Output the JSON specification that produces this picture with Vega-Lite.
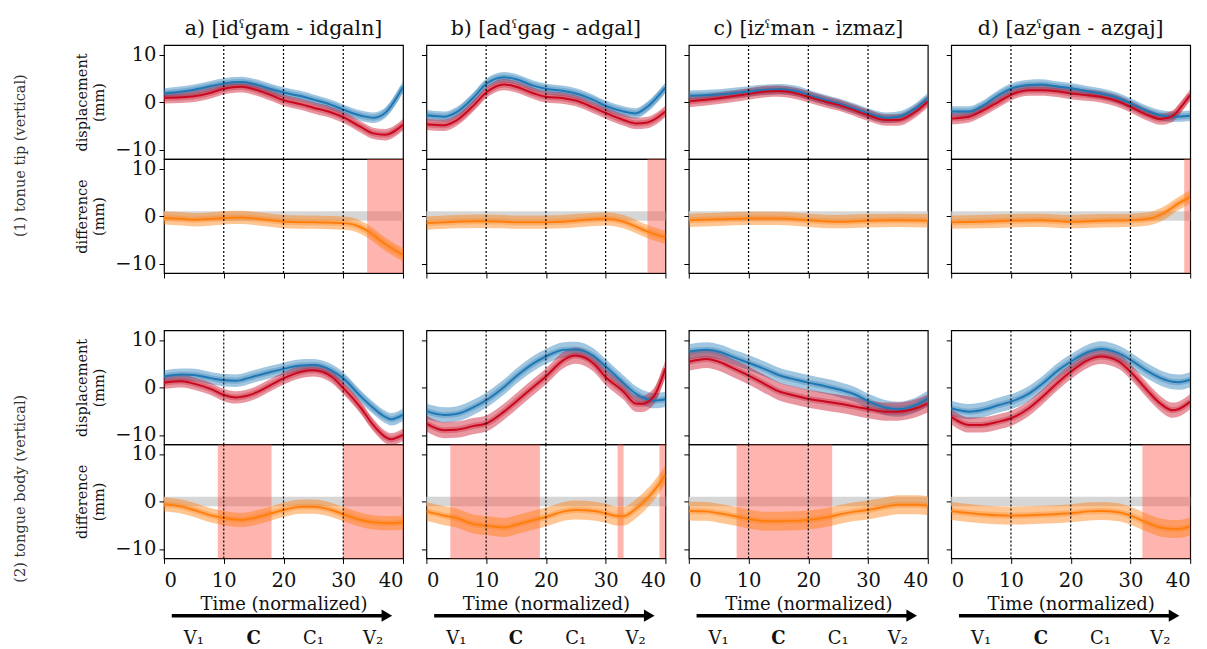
{
"$schema": "https://vega.github.io/schema/vega-lite/v6.json",
"background": "white",
"padding": {"left": 12, "top": 18, "right": 5, "bottom": 0},
"config": {
  "font": "DejaVu Serif",
  "view": {"stroke": "#000", "strokeWidth": 1.2},
  "axis": {"grid": false, "domain": false, "tickColor": "#000", "tickSize": 5, "tickWidth": 1, "labelFont": "DejaVu Serif", "labelFontSize": 19.5, "labelColor": "#111", "labelPadding": 3, "titleFont": "DejaVu Serif", "titleFontSize": 14.5, "titleFontWeight": "normal", "titleColor": "#111", "titleLineHeight": 17, "titlePadding": 8},
  "title": {"font": "DejaVu Serif", "fontSize": 20.5, "fontWeight": "normal", "color": "#111", "offset": 5},
  "text": {"font": "DejaVu Serif"}
},
"datasets": {
  "vl": [{"t": 10}, {"t": 20}, {"t": 30}],
  "grey": [{"t": 0, "t2": 40, "lo": -1, "hi": 1}],
  "sig": [
    {"p": "a1", "t": 34, "t2": 40}, {"p": "b1", "t": 37, "t2": 40}, {"p": "d1", "t": 39, "t2": 40},
    {"p": "a2", "t": 9, "t2": 18}, {"p": "a2", "t": 30, "t2": 40},
    {"p": "b2", "t": 4, "t2": 19}, {"p": "b2", "t": 32, "t2": 33}, {"p": "b2", "t": 39, "t2": 40},
    {"p": "c2", "t": 8, "t2": 24}, {"p": "d2", "t": 32, "t2": 40}
  ],
  "arrow": [{"t": 1.3, "t2": 36.8, "y": -24.06}],
  "head": [{"t": 37.3, "y": -24.06}],
  "phase": [{"t": 5, "lab": "V₁", "b": 0, "y": -28.9}, {"t": 15, "lab": "C", "b": 1, "y": -28.9}, {"t": 25, "lab": "C₁", "b": 0, "y": -28.9}, {"t": 35, "lab": "V₂", "b": 0, "y": -28.9}],
  "curves": [
{"p":"a1","s":"b","t":0,"m":1.8,"lo":0.7,"hi":2.9},
{"p":"a1","s":"b","t":3,"m":2.2,"lo":1.1,"hi":3.3},
{"p":"a1","s":"b","t":5,"m":2.6,"lo":1.5,"hi":3.7},
{"p":"a1","s":"b","t":8,"m":3.4,"lo":2.3,"hi":4.5},
{"p":"a1","s":"b","t":10,"m":3.9,"lo":2.8,"hi":5.0},
{"p":"a1","s":"b","t":13,"m":4.2,"lo":3.1,"hi":5.3},
{"p":"a1","s":"b","t":15,"m":3.8,"lo":2.7,"hi":4.9},
{"p":"a1","s":"b","t":18,"m":2.7,"lo":1.6,"hi":3.8},
{"p":"a1","s":"b","t":20,"m":2.0,"lo":0.9,"hi":3.1},
{"p":"a1","s":"b","t":23,"m":1.2,"lo":0.1,"hi":2.3},
{"p":"a1","s":"b","t":25,"m":0.5,"lo":-0.6,"hi":1.6},
{"p":"a1","s":"b","t":28,"m":-0.6,"lo":-1.7,"hi":0.5},
{"p":"a1","s":"b","t":30,"m":-1.6,"lo":-2.7,"hi":-0.5},
{"p":"a1","s":"b","t":33,"m":-2.9,"lo":-4.0,"hi":-1.8},
{"p":"a1","s":"b","t":35,"m":-3.3,"lo":-4.4,"hi":-2.2},
{"p":"a1","s":"b","t":37,"m":-2.3,"lo":-3.4,"hi":-1.2},
{"p":"a1","s":"b","t":40,"m":3.2,"lo":2.1,"hi":4.3},
{"p":"a1","s":"r","t":0,"m":0.9,"lo":-0.3,"hi":2.1},
{"p":"a1","s":"r","t":3,"m":1.0,"lo":-0.2,"hi":2.2},
{"p":"a1","s":"r","t":5,"m":1.2,"lo":0.0,"hi":2.4},
{"p":"a1","s":"r","t":8,"m":2.0,"lo":0.8,"hi":3.2},
{"p":"a1","s":"r","t":10,"m":2.8,"lo":1.6,"hi":4.0},
{"p":"a1","s":"r","t":13,"m":3.2,"lo":2.0,"hi":4.4},
{"p":"a1","s":"r","t":15,"m":2.7,"lo":1.5,"hi":3.9},
{"p":"a1","s":"r","t":18,"m":1.4,"lo":0.2,"hi":2.6},
{"p":"a1","s":"r","t":20,"m":0.4,"lo":-0.8,"hi":1.6},
{"p":"a1","s":"r","t":23,"m":-0.5,"lo":-1.7,"hi":0.7},
{"p":"a1","s":"r","t":25,"m":-1.2,"lo":-2.4,"hi":0.0},
{"p":"a1","s":"r","t":28,"m":-2.2,"lo":-3.4,"hi":-1.0},
{"p":"a1","s":"r","t":30,"m":-3.2,"lo":-4.4,"hi":-2.0},
{"p":"a1","s":"r","t":33,"m":-5.3,"lo":-6.5,"hi":-4.1},
{"p":"a1","s":"r","t":35,"m":-6.6,"lo":-7.8,"hi":-5.4},
{"p":"a1","s":"r","t":37,"m":-6.9,"lo":-8.1,"hi":-5.7},
{"p":"a1","s":"r","t":40,"m":-4.8,"lo":-6.0,"hi":-3.6},
{"p":"a1","s":"d","t":0,"m":-0.4,"lo":-1.8,"hi":1.0},
{"p":"a1","s":"d","t":3,"m":-0.6,"lo":-2.0,"hi":0.8},
{"p":"a1","s":"d","t":5,"m":-0.8,"lo":-2.2,"hi":0.6},
{"p":"a1","s":"d","t":8,"m":-0.6,"lo":-2.0,"hi":0.8},
{"p":"a1","s":"d","t":10,"m":-0.4,"lo":-1.8,"hi":1.0},
{"p":"a1","s":"d","t":13,"m":-0.3,"lo":-1.7,"hi":1.1},
{"p":"a1","s":"d","t":15,"m":-0.5,"lo":-1.9,"hi":0.9},
{"p":"a1","s":"d","t":18,"m":-0.9,"lo":-2.3,"hi":0.5},
{"p":"a1","s":"d","t":20,"m":-1.2,"lo":-2.6,"hi":0.2},
{"p":"a1","s":"d","t":23,"m":-1.3,"lo":-2.7,"hi":0.1},
{"p":"a1","s":"d","t":25,"m":-1.3,"lo":-2.7,"hi":0.1},
{"p":"a1","s":"d","t":28,"m":-1.4,"lo":-2.8,"hi":0.0},
{"p":"a1","s":"d","t":30,"m":-1.5,"lo":-2.9,"hi":-0.1},
{"p":"a1","s":"d","t":32,"m":-1.9,"lo":-3.3,"hi":-0.5},
{"p":"a1","s":"d","t":34,"m":-3.1,"lo":-4.5,"hi":-1.7},
{"p":"a1","s":"d","t":37,"m":-5.9,"lo":-7.3,"hi":-4.5},
{"p":"a1","s":"d","t":40,"m":-8.2,"lo":-9.6,"hi":-6.8},
{"p":"b1","s":"b","t":0,"m":-2.8,"lo":-3.9,"hi":-1.7},
{"p":"b1","s":"b","t":3,"m":-3.1,"lo":-4.2,"hi":-2.0},
{"p":"b1","s":"b","t":5,"m":-2.2,"lo":-3.3,"hi":-1.1},
{"p":"b1","s":"b","t":8,"m":1.1,"lo":0.0,"hi":2.2},
{"p":"b1","s":"b","t":10,"m":3.8,"lo":2.7,"hi":4.9},
{"p":"b1","s":"b","t":13,"m":5.2,"lo":4.1,"hi":6.3},
{"p":"b1","s":"b","t":15,"m":4.8,"lo":3.7,"hi":5.9},
{"p":"b1","s":"b","t":18,"m":3.4,"lo":2.3,"hi":4.5},
{"p":"b1","s":"b","t":20,"m":2.8,"lo":1.7,"hi":3.9},
{"p":"b1","s":"b","t":23,"m":2.3,"lo":1.2,"hi":3.4},
{"p":"b1","s":"b","t":25,"m":1.8,"lo":0.7,"hi":2.9},
{"p":"b1","s":"b","t":28,"m":0.4,"lo":-0.7,"hi":1.5},
{"p":"b1","s":"b","t":30,"m":-0.8,"lo":-1.9,"hi":0.3},
{"p":"b1","s":"b","t":33,"m":-2.0,"lo":-3.1,"hi":-0.9},
{"p":"b1","s":"b","t":35,"m":-2.4,"lo":-3.5,"hi":-1.3},
{"p":"b1","s":"b","t":37,"m":-1.0,"lo":-2.1,"hi":0.1},
{"p":"b1","s":"b","t":40,"m":3.0,"lo":1.9,"hi":4.1},
{"p":"b1","s":"r","t":0,"m":-4.7,"lo":-5.9,"hi":-3.5},
{"p":"b1","s":"r","t":3,"m":-4.9,"lo":-6.1,"hi":-3.7},
{"p":"b1","s":"r","t":5,"m":-3.9,"lo":-5.1,"hi":-2.7},
{"p":"b1","s":"r","t":8,"m":-0.6,"lo":-1.8,"hi":0.6},
{"p":"b1","s":"r","t":10,"m":2.0,"lo":0.8,"hi":3.2},
{"p":"b1","s":"r","t":13,"m":3.7,"lo":2.5,"hi":4.9},
{"p":"b1","s":"r","t":15,"m":3.2,"lo":2.0,"hi":4.4},
{"p":"b1","s":"r","t":18,"m":1.8,"lo":0.6,"hi":3.0},
{"p":"b1","s":"r","t":20,"m":1.1,"lo":-0.1,"hi":2.3},
{"p":"b1","s":"r","t":23,"m":0.8,"lo":-0.4,"hi":2.0},
{"p":"b1","s":"r","t":25,"m":0.3,"lo":-0.9,"hi":1.5},
{"p":"b1","s":"r","t":28,"m":-1.2,"lo":-2.4,"hi":0.0},
{"p":"b1","s":"r","t":30,"m":-2.3,"lo":-3.5,"hi":-1.1},
{"p":"b1","s":"r","t":33,"m":-3.8,"lo":-5.0,"hi":-2.6},
{"p":"b1","s":"r","t":35,"m":-4.5,"lo":-5.7,"hi":-3.3},
{"p":"b1","s":"r","t":37,"m":-4.3,"lo":-5.5,"hi":-3.1},
{"p":"b1","s":"r","t":40,"m":-2.0,"lo":-3.2,"hi":-0.8},
{"p":"b1","s":"d","t":0,"m":-1.5,"lo":-2.9,"hi":-0.1},
{"p":"b1","s":"d","t":3,"m":-1.3,"lo":-2.7,"hi":0.1},
{"p":"b1","s":"d","t":5,"m":-1.2,"lo":-2.6,"hi":0.2},
{"p":"b1","s":"d","t":8,"m":-1.1,"lo":-2.5,"hi":0.3},
{"p":"b1","s":"d","t":10,"m":-1.1,"lo":-2.5,"hi":0.3},
{"p":"b1","s":"d","t":13,"m":-1.2,"lo":-2.6,"hi":0.2},
{"p":"b1","s":"d","t":15,"m":-1.3,"lo":-2.7,"hi":0.1},
{"p":"b1","s":"d","t":18,"m":-1.3,"lo":-2.7,"hi":0.1},
{"p":"b1","s":"d","t":20,"m":-1.3,"lo":-2.7,"hi":0.1},
{"p":"b1","s":"d","t":23,"m":-1.2,"lo":-2.6,"hi":0.2},
{"p":"b1","s":"d","t":25,"m":-1.0,"lo":-2.4,"hi":0.4},
{"p":"b1","s":"d","t":28,"m":-0.7,"lo":-2.1,"hi":0.7},
{"p":"b1","s":"d","t":30,"m":-0.6,"lo":-2.0,"hi":0.8},
{"p":"b1","s":"d","t":33,"m":-1.2,"lo":-2.6,"hi":0.2},
{"p":"b1","s":"d","t":35,"m":-2.2,"lo":-3.6,"hi":-0.8},
{"p":"b1","s":"d","t":37,"m":-3.3,"lo":-4.7,"hi":-1.9},
{"p":"b1","s":"d","t":40,"m":-4.5,"lo":-5.9,"hi":-3.1},
{"p":"c1","s":"b","t":0,"m":1.3,"lo":0.2,"hi":2.4},
{"p":"c1","s":"b","t":5,"m":1.6,"lo":0.5,"hi":2.7},
{"p":"c1","s":"b","t":10,"m":2.2,"lo":1.1,"hi":3.3},
{"p":"c1","s":"b","t":13,"m":2.6,"lo":1.5,"hi":3.7},
{"p":"c1","s":"b","t":15,"m":2.7,"lo":1.6,"hi":3.8},
{"p":"c1","s":"b","t":18,"m":2.3,"lo":1.2,"hi":3.4},
{"p":"c1","s":"b","t":20,"m":1.5,"lo":0.4,"hi":2.6},
{"p":"c1","s":"b","t":23,"m":0.4,"lo":-0.7,"hi":1.5},
{"p":"c1","s":"b","t":25,"m":-0.3,"lo":-1.4,"hi":0.8},
{"p":"c1","s":"b","t":28,"m":-1.5,"lo":-2.6,"hi":-0.4},
{"p":"c1","s":"b","t":30,"m":-2.4,"lo":-3.5,"hi":-1.3},
{"p":"c1","s":"b","t":33,"m":-3.3,"lo":-4.4,"hi":-2.2},
{"p":"c1","s":"b","t":35,"m":-3.1,"lo":-4.2,"hi":-2.0},
{"p":"c1","s":"b","t":38,"m":-1.3,"lo":-2.4,"hi":-0.2},
{"p":"c1","s":"b","t":40,"m":0.8,"lo":-0.3,"hi":1.9},
{"p":"c1","s":"r","t":0,"m":0.1,"lo":-1.1,"hi":1.3},
{"p":"c1","s":"r","t":5,"m":0.8,"lo":-0.4,"hi":2.0},
{"p":"c1","s":"r","t":10,"m":1.7,"lo":0.5,"hi":2.9},
{"p":"c1","s":"r","t":13,"m":2.2,"lo":1.0,"hi":3.4},
{"p":"c1","s":"r","t":15,"m":2.3,"lo":1.1,"hi":3.5},
{"p":"c1","s":"r","t":18,"m":1.8,"lo":0.6,"hi":3.0},
{"p":"c1","s":"r","t":20,"m":1.1,"lo":-0.1,"hi":2.3},
{"p":"c1","s":"r","t":23,"m":0.0,"lo":-1.2,"hi":1.2},
{"p":"c1","s":"r","t":25,"m":-0.6,"lo":-1.8,"hi":0.6},
{"p":"c1","s":"r","t":28,"m":-1.9,"lo":-3.1,"hi":-0.7},
{"p":"c1","s":"r","t":30,"m":-2.8,"lo":-4.0,"hi":-1.6},
{"p":"c1","s":"r","t":33,"m":-3.8,"lo":-5.0,"hi":-2.6},
{"p":"c1","s":"r","t":35,"m":-3.8,"lo":-5.0,"hi":-2.6},
{"p":"c1","s":"r","t":38,"m":-2.0,"lo":-3.2,"hi":-0.8},
{"p":"c1","s":"r","t":40,"m":0.1,"lo":-1.1,"hi":1.3},
{"p":"c1","s":"d","t":0,"m":-0.9,"lo":-2.3,"hi":0.5},
{"p":"c1","s":"d","t":5,"m":-0.7,"lo":-2.1,"hi":0.7},
{"p":"c1","s":"d","t":10,"m":-0.5,"lo":-1.9,"hi":0.9},
{"p":"c1","s":"d","t":15,"m":-0.5,"lo":-1.9,"hi":0.9},
{"p":"c1","s":"d","t":20,"m":-0.9,"lo":-2.3,"hi":0.5},
{"p":"c1","s":"d","t":25,"m":-1.2,"lo":-2.6,"hi":0.2},
{"p":"c1","s":"d","t":30,"m":-1.0,"lo":-2.4,"hi":0.4},
{"p":"c1","s":"d","t":35,"m":-0.9,"lo":-2.3,"hi":0.5},
{"p":"c1","s":"d","t":40,"m":-1.0,"lo":-2.4,"hi":0.4},
{"p":"d1","s":"b","t":0,"m":-2.0,"lo":-3.1,"hi":-0.9},
{"p":"d1","s":"b","t":3,"m":-2.0,"lo":-3.1,"hi":-0.9},
{"p":"d1","s":"b","t":5,"m":-1.0,"lo":-2.1,"hi":0.1},
{"p":"d1","s":"b","t":8,"m":1.5,"lo":0.4,"hi":2.6},
{"p":"d1","s":"b","t":10,"m":2.8,"lo":1.7,"hi":3.9},
{"p":"d1","s":"b","t":13,"m":3.6,"lo":2.5,"hi":4.7},
{"p":"d1","s":"b","t":15,"m":3.7,"lo":2.6,"hi":4.8},
{"p":"d1","s":"b","t":18,"m":3.2,"lo":2.1,"hi":4.3},
{"p":"d1","s":"b","t":20,"m":2.9,"lo":1.8,"hi":4.0},
{"p":"d1","s":"b","t":23,"m":2.2,"lo":1.1,"hi":3.3},
{"p":"d1","s":"b","t":25,"m":1.8,"lo":0.7,"hi":2.9},
{"p":"d1","s":"b","t":28,"m":0.8,"lo":-0.3,"hi":1.9},
{"p":"d1","s":"b","t":30,"m":-0.3,"lo":-1.4,"hi":0.8},
{"p":"d1","s":"b","t":33,"m":-2.0,"lo":-3.1,"hi":-0.9},
{"p":"d1","s":"b","t":35,"m":-2.8,"lo":-3.9,"hi":-1.7},
{"p":"d1","s":"b","t":37,"m":-3.1,"lo":-4.2,"hi":-2.0},
{"p":"d1","s":"b","t":40,"m":-2.9,"lo":-4.0,"hi":-1.8},
{"p":"d1","s":"r","t":0,"m":-3.5,"lo":-4.7,"hi":-2.3},
{"p":"d1","s":"r","t":3,"m":-3.1,"lo":-4.3,"hi":-1.9},
{"p":"d1","s":"r","t":5,"m":-2.0,"lo":-3.2,"hi":-0.8},
{"p":"d1","s":"r","t":8,"m":0.1,"lo":-1.1,"hi":1.3},
{"p":"d1","s":"r","t":10,"m":1.5,"lo":0.3,"hi":2.7},
{"p":"d1","s":"r","t":13,"m":2.5,"lo":1.3,"hi":3.7},
{"p":"d1","s":"r","t":15,"m":2.5,"lo":1.3,"hi":3.7},
{"p":"d1","s":"r","t":18,"m":2.2,"lo":1.0,"hi":3.4},
{"p":"d1","s":"r","t":20,"m":1.8,"lo":0.6,"hi":3.0},
{"p":"d1","s":"r","t":23,"m":1.4,"lo":0.2,"hi":2.6},
{"p":"d1","s":"r","t":25,"m":1.1,"lo":-0.1,"hi":2.3},
{"p":"d1","s":"r","t":28,"m":0.1,"lo":-1.1,"hi":1.3},
{"p":"d1","s":"r","t":30,"m":-1.0,"lo":-2.2,"hi":0.2},
{"p":"d1","s":"r","t":33,"m":-2.8,"lo":-4.0,"hi":-1.6},
{"p":"d1","s":"r","t":35,"m":-3.6,"lo":-4.8,"hi":-2.4},
{"p":"d1","s":"r","t":37,"m":-3.0,"lo":-4.2,"hi":-1.8},
{"p":"d1","s":"r","t":38.5,"m":-1.0,"lo":-2.2,"hi":0.2},
{"p":"d1","s":"r","t":40,"m":1.5,"lo":0.3,"hi":2.7},
{"p":"d1","s":"d","t":0,"m":-1.3,"lo":-2.7,"hi":0.1},
{"p":"d1","s":"d","t":5,"m":-1.2,"lo":-2.6,"hi":0.2},
{"p":"d1","s":"d","t":10,"m":-1.0,"lo":-2.4,"hi":0.4},
{"p":"d1","s":"d","t":15,"m":-0.9,"lo":-2.3,"hi":0.5},
{"p":"d1","s":"d","t":20,"m":-1.2,"lo":-2.6,"hi":0.2},
{"p":"d1","s":"d","t":25,"m":-1.0,"lo":-2.4,"hi":0.4},
{"p":"d1","s":"d","t":30,"m":-0.9,"lo":-2.3,"hi":0.5},
{"p":"d1","s":"d","t":33,"m":-0.6,"lo":-2.0,"hi":0.8},
{"p":"d1","s":"d","t":34,"m":-0.3,"lo":-1.7,"hi":1.1},
{"p":"d1","s":"d","t":36,"m":0.9,"lo":-0.5,"hi":2.3},
{"p":"d1","s":"d","t":38,"m":2.6,"lo":1.2,"hi":4.0},
{"p":"d1","s":"d","t":40,"m":4.0,"lo":2.6,"hi":5.4},
{"p":"a2","s":"b","t":0,"m":2.3,"lo":1.0,"hi":3.6},
{"p":"a2","s":"b","t":3,"m":2.7,"lo":1.4,"hi":4.0},
{"p":"a2","s":"b","t":5,"m":2.6,"lo":1.3,"hi":3.9},
{"p":"a2","s":"b","t":8,"m":1.9,"lo":0.6,"hi":3.2},
{"p":"a2","s":"b","t":10,"m":1.5,"lo":0.2,"hi":2.8},
{"p":"a2","s":"b","t":12,"m":1.4,"lo":0.1,"hi":2.7},
{"p":"a2","s":"b","t":15,"m":2.3,"lo":1.0,"hi":3.6},
{"p":"a2","s":"b","t":18,"m":3.3,"lo":2.0,"hi":4.6},
{"p":"a2","s":"b","t":20,"m":3.9,"lo":2.6,"hi":5.2},
{"p":"a2","s":"b","t":23,"m":4.6,"lo":3.3,"hi":5.9},
{"p":"a2","s":"b","t":25,"m":4.7,"lo":3.4,"hi":6.0},
{"p":"a2","s":"b","t":28,"m":3.6,"lo":2.3,"hi":4.9},
{"p":"a2","s":"b","t":30,"m":1.9,"lo":0.6,"hi":3.2},
{"p":"a2","s":"b","t":33,"m":-2.0,"lo":-3.3,"hi":-0.7},
{"p":"a2","s":"b","t":35,"m":-4.3,"lo":-5.6,"hi":-3.0},
{"p":"a2","s":"b","t":37,"m":-6.2,"lo":-7.5,"hi":-4.9},
{"p":"a2","s":"b","t":38,"m":-6.7,"lo":-8.0,"hi":-5.4},
{"p":"a2","s":"b","t":40,"m":-5.8,"lo":-7.1,"hi":-4.5},
{"p":"a2","s":"r","t":0,"m":1.0,"lo":-0.3,"hi":2.3},
{"p":"a2","s":"r","t":3,"m":1.3,"lo":0.0,"hi":2.6},
{"p":"a2","s":"r","t":5,"m":0.8,"lo":-0.5,"hi":2.1},
{"p":"a2","s":"r","t":8,"m":-0.4,"lo":-1.7,"hi":0.9},
{"p":"a2","s":"r","t":10,"m":-1.6,"lo":-2.9,"hi":-0.3},
{"p":"a2","s":"r","t":12,"m":-2.1,"lo":-3.4,"hi":-0.8},
{"p":"a2","s":"r","t":15,"m":-1.3,"lo":-2.6,"hi":0.0},
{"p":"a2","s":"r","t":18,"m":0.6,"lo":-0.7,"hi":1.9},
{"p":"a2","s":"r","t":20,"m":1.9,"lo":0.6,"hi":3.2},
{"p":"a2","s":"r","t":23,"m":3.3,"lo":2.0,"hi":4.6},
{"p":"a2","s":"r","t":25,"m":3.6,"lo":2.3,"hi":4.9},
{"p":"a2","s":"r","t":28,"m":2.3,"lo":1.0,"hi":3.6},
{"p":"a2","s":"r","t":30,"m":-0.1,"lo":-1.4,"hi":1.2},
{"p":"a2","s":"r","t":33,"m":-4.4,"lo":-5.7,"hi":-3.1},
{"p":"a2","s":"r","t":35,"m":-7.9,"lo":-9.2,"hi":-6.6},
{"p":"a2","s":"r","t":37,"m":-10.4,"lo":-11.7,"hi":-9.1},
{"p":"a2","s":"r","t":38,"m":-10.9,"lo":-12.2,"hi":-9.6},
{"p":"a2","s":"r","t":40,"m":-10.0,"lo":-11.3,"hi":-8.7},
{"p":"a2","s":"d","t":0,"m":-0.6,"lo":-2.1,"hi":0.9},
{"p":"a2","s":"d","t":3,"m":-1.1,"lo":-2.6,"hi":0.4},
{"p":"a2","s":"d","t":5,"m":-1.8,"lo":-3.3,"hi":-0.3},
{"p":"a2","s":"d","t":8,"m":-3.0,"lo":-4.5,"hi":-1.5},
{"p":"a2","s":"d","t":10,"m":-3.5,"lo":-5.0,"hi":-2.0},
{"p":"a2","s":"d","t":13,"m":-3.9,"lo":-5.4,"hi":-2.4},
{"p":"a2","s":"d","t":15,"m":-3.5,"lo":-5.0,"hi":-2.0},
{"p":"a2","s":"d","t":18,"m":-2.5,"lo":-4.0,"hi":-1.0},
{"p":"a2","s":"d","t":20,"m":-1.8,"lo":-3.3,"hi":-0.3},
{"p":"a2","s":"d","t":23,"m":-1.1,"lo":-2.6,"hi":0.4},
{"p":"a2","s":"d","t":25,"m":-1.1,"lo":-2.6,"hi":0.4},
{"p":"a2","s":"d","t":28,"m":-1.8,"lo":-3.3,"hi":-0.3},
{"p":"a2","s":"d","t":30,"m":-2.7,"lo":-4.2,"hi":-1.2},
{"p":"a2","s":"d","t":33,"m":-3.9,"lo":-5.4,"hi":-2.4},
{"p":"a2","s":"d","t":35,"m":-4.4,"lo":-5.9,"hi":-2.9},
{"p":"a2","s":"d","t":38,"m":-4.6,"lo":-6.1,"hi":-3.1},
{"p":"a2","s":"d","t":40,"m":-4.4,"lo":-5.9,"hi":-2.9},
{"p":"b2","s":"b","t":0,"m":-5.0,"lo":-6.6,"hi":-3.4},
{"p":"b2","s":"b","t":3,"m":-5.8,"lo":-7.4,"hi":-4.2},
{"p":"b2","s":"b","t":5,"m":-5.6,"lo":-7.2,"hi":-4.0},
{"p":"b2","s":"b","t":8,"m":-4.1,"lo":-5.7,"hi":-2.5},
{"p":"b2","s":"b","t":10,"m":-2.7,"lo":-4.3,"hi":-1.1},
{"p":"b2","s":"b","t":13,"m":0.1,"lo":-1.5,"hi":1.7},
{"p":"b2","s":"b","t":15,"m":2.3,"lo":0.7,"hi":3.9},
{"p":"b2","s":"b","t":18,"m":5.1,"lo":3.5,"hi":6.7},
{"p":"b2","s":"b","t":20,"m":6.5,"lo":4.9,"hi":8.1},
{"p":"b2","s":"b","t":23,"m":7.9,"lo":6.3,"hi":9.5},
{"p":"b2","s":"b","t":25,"m":8.0,"lo":6.4,"hi":9.6},
{"p":"b2","s":"b","t":28,"m":6.6,"lo":5.0,"hi":8.2},
{"p":"b2","s":"b","t":30,"m":4.4,"lo":2.8,"hi":6.0},
{"p":"b2","s":"b","t":33,"m":0.9,"lo":-0.7,"hi":2.5},
{"p":"b2","s":"b","t":35,"m":-1.3,"lo":-2.9,"hi":0.3},
{"p":"b2","s":"b","t":37,"m":-2.5,"lo":-4.1,"hi":-0.9},
{"p":"b2","s":"b","t":38,"m":-2.8,"lo":-4.4,"hi":-1.2},
{"p":"b2","s":"b","t":40,"m":-2.5,"lo":-4.1,"hi":-0.9},
{"p":"b2","s":"r","t":0,"m":-7.6,"lo":-9.3,"hi":-5.9},
{"p":"b2","s":"r","t":3,"m":-9.0,"lo":-10.7,"hi":-7.3},
{"p":"b2","s":"r","t":5,"m":-8.9,"lo":-10.6,"hi":-7.2},
{"p":"b2","s":"r","t":8,"m":-8.1,"lo":-9.8,"hi":-6.4},
{"p":"b2","s":"r","t":10,"m":-7.6,"lo":-9.3,"hi":-5.9},
{"p":"b2","s":"r","t":13,"m":-5.1,"lo":-6.8,"hi":-3.4},
{"p":"b2","s":"r","t":15,"m":-3.0,"lo":-4.7,"hi":-1.3},
{"p":"b2","s":"r","t":18,"m":0.2,"lo":-1.5,"hi":1.9},
{"p":"b2","s":"r","t":20,"m":2.3,"lo":0.6,"hi":4.0},
{"p":"b2","s":"r","t":23,"m":5.8,"lo":4.1,"hi":7.5},
{"p":"b2","s":"r","t":25,"m":6.7,"lo":5.0,"hi":8.4},
{"p":"b2","s":"r","t":28,"m":5.0,"lo":3.3,"hi":6.7},
{"p":"b2","s":"r","t":30,"m":2.2,"lo":0.5,"hi":3.9},
{"p":"b2","s":"r","t":33,"m":-0.9,"lo":-2.6,"hi":0.8},
{"p":"b2","s":"r","t":35,"m":-3.4,"lo":-5.1,"hi":-1.7},
{"p":"b2","s":"r","t":36,"m":-3.5,"lo":-5.2,"hi":-1.8},
{"p":"b2","s":"r","t":38,"m":-2.0,"lo":-3.7,"hi":-0.3},
{"p":"b2","s":"r","t":40,"m":4.0,"lo":2.3,"hi":5.7},
{"p":"b2","s":"d","t":0,"m":-2.1,"lo":-4.1,"hi":-0.1},
{"p":"b2","s":"d","t":3,"m":-3.0,"lo":-5.0,"hi":-1.0},
{"p":"b2","s":"d","t":5,"m":-3.5,"lo":-5.5,"hi":-1.5},
{"p":"b2","s":"d","t":8,"m":-4.8,"lo":-6.8,"hi":-2.8},
{"p":"b2","s":"d","t":10,"m":-5.1,"lo":-7.1,"hi":-3.1},
{"p":"b2","s":"d","t":13,"m":-5.5,"lo":-7.5,"hi":-3.5},
{"p":"b2","s":"d","t":15,"m":-4.9,"lo":-6.9,"hi":-2.9},
{"p":"b2","s":"d","t":18,"m":-3.9,"lo":-5.9,"hi":-1.9},
{"p":"b2","s":"d","t":20,"m":-3.3,"lo":-5.3,"hi":-1.3},
{"p":"b2","s":"d","t":23,"m":-2.1,"lo":-4.1,"hi":-0.1},
{"p":"b2","s":"d","t":25,"m":-1.8,"lo":-3.8,"hi":0.2},
{"p":"b2","s":"d","t":28,"m":-2.0,"lo":-4.0,"hi":0.0},
{"p":"b2","s":"d","t":30,"m":-2.5,"lo":-4.5,"hi":-0.5},
{"p":"b2","s":"d","t":32,"m":-3.1,"lo":-5.1,"hi":-1.1},
{"p":"b2","s":"d","t":33,"m":-3.1,"lo":-5.1,"hi":-1.1},
{"p":"b2","s":"d","t":35,"m":-1.6,"lo":-3.6,"hi":0.4},
{"p":"b2","s":"d","t":37,"m":0.7,"lo":-1.3,"hi":2.7},
{"p":"b2","s":"d","t":38,"m":2.1,"lo":0.1,"hi":4.1},
{"p":"b2","s":"d","t":40,"m":5.6,"lo":3.6,"hi":7.6},
{"p":"c2","s":"b","t":0,"m":7.5,"lo":5.9,"hi":9.1},
{"p":"c2","s":"b","t":3,"m":7.9,"lo":6.3,"hi":9.5},
{"p":"c2","s":"b","t":5,"m":7.5,"lo":5.9,"hi":9.1},
{"p":"c2","s":"b","t":8,"m":6.1,"lo":4.5,"hi":7.7},
{"p":"c2","s":"b","t":10,"m":5.2,"lo":3.6,"hi":6.8},
{"p":"c2","s":"b","t":13,"m":3.7,"lo":2.1,"hi":5.3},
{"p":"c2","s":"b","t":15,"m":2.6,"lo":1.0,"hi":4.2},
{"p":"c2","s":"b","t":18,"m":1.6,"lo":0.0,"hi":3.2},
{"p":"c2","s":"b","t":20,"m":1.0,"lo":-0.6,"hi":2.6},
{"p":"c2","s":"b","t":23,"m":0.2,"lo":-1.4,"hi":1.8},
{"p":"c2","s":"b","t":25,"m":-0.4,"lo":-2.0,"hi":1.2},
{"p":"c2","s":"b","t":28,"m":-1.6,"lo":-3.2,"hi":0.0},
{"p":"c2","s":"b","t":30,"m":-2.9,"lo":-4.5,"hi":-1.3},
{"p":"c2","s":"b","t":33,"m":-4.3,"lo":-5.9,"hi":-2.7},
{"p":"c2","s":"b","t":35,"m":-4.6,"lo":-6.2,"hi":-3.0},
{"p":"c2","s":"b","t":38,"m":-3.7,"lo":-5.3,"hi":-2.1},
{"p":"c2","s":"b","t":40,"m":-2.3,"lo":-3.9,"hi":-0.7},
{"p":"c2","s":"r","t":0,"m":5.4,"lo":3.5,"hi":7.3},
{"p":"c2","s":"r","t":3,"m":6.0,"lo":4.1,"hi":7.9},
{"p":"c2","s":"r","t":5,"m":5.4,"lo":3.5,"hi":7.3},
{"p":"c2","s":"r","t":8,"m":3.7,"lo":1.8,"hi":5.6},
{"p":"c2","s":"r","t":10,"m":2.5,"lo":0.6,"hi":4.4},
{"p":"c2","s":"r","t":13,"m":0.5,"lo":-1.4,"hi":2.4},
{"p":"c2","s":"r","t":15,"m":-0.8,"lo":-2.7,"hi":1.1},
{"p":"c2","s":"r","t":18,"m":-1.8,"lo":-3.7,"hi":0.1},
{"p":"c2","s":"r","t":20,"m":-2.4,"lo":-4.3,"hi":-0.5},
{"p":"c2","s":"r","t":23,"m":-3.0,"lo":-4.9,"hi":-1.1},
{"p":"c2","s":"r","t":25,"m":-3.4,"lo":-5.3,"hi":-1.5},
{"p":"c2","s":"r","t":28,"m":-4.1,"lo":-6.0,"hi":-2.2},
{"p":"c2","s":"r","t":30,"m":-4.6,"lo":-6.5,"hi":-2.7},
{"p":"c2","s":"r","t":33,"m":-5.1,"lo":-7.0,"hi":-3.2},
{"p":"c2","s":"r","t":35,"m":-5.1,"lo":-7.0,"hi":-3.2},
{"p":"c2","s":"r","t":38,"m":-4.4,"lo":-6.3,"hi":-2.5},
{"p":"c2","s":"r","t":40,"m":-3.4,"lo":-5.3,"hi":-1.5},
{"p":"c2","s":"d","t":0,"m":-2.0,"lo":-4.0,"hi":0.0},
{"p":"c2","s":"d","t":3,"m":-2.1,"lo":-4.1,"hi":-0.1},
{"p":"c2","s":"d","t":5,"m":-2.5,"lo":-4.5,"hi":-0.5},
{"p":"c2","s":"d","t":8,"m":-3.2,"lo":-5.2,"hi":-1.2},
{"p":"c2","s":"d","t":10,"m":-3.7,"lo":-5.7,"hi":-1.7},
{"p":"c2","s":"d","t":13,"m":-4.2,"lo":-6.2,"hi":-2.2},
{"p":"c2","s":"d","t":15,"m":-4.2,"lo":-6.2,"hi":-2.2},
{"p":"c2","s":"d","t":18,"m":-4.1,"lo":-6.1,"hi":-2.1},
{"p":"c2","s":"d","t":20,"m":-3.9,"lo":-5.9,"hi":-1.9},
{"p":"c2","s":"d","t":23,"m":-3.4,"lo":-5.4,"hi":-1.4},
{"p":"c2","s":"d","t":25,"m":-2.8,"lo":-4.8,"hi":-0.8},
{"p":"c2","s":"d","t":28,"m":-2.1,"lo":-4.1,"hi":-0.1},
{"p":"c2","s":"d","t":30,"m":-1.8,"lo":-3.8,"hi":0.2},
{"p":"c2","s":"d","t":33,"m":-1.1,"lo":-3.1,"hi":0.9},
{"p":"c2","s":"d","t":35,"m":-0.7,"lo":-2.7,"hi":1.3},
{"p":"c2","s":"d","t":38,"m":-0.7,"lo":-2.7,"hi":1.3},
{"p":"c2","s":"d","t":40,"m":-0.9,"lo":-2.9,"hi":1.1},
{"p":"d2","s":"b","t":0,"m":-4.4,"lo":-6.0,"hi":-2.8},
{"p":"d2","s":"b","t":3,"m":-5.1,"lo":-6.7,"hi":-3.5},
{"p":"d2","s":"b","t":5,"m":-4.8,"lo":-6.4,"hi":-3.2},
{"p":"d2","s":"b","t":8,"m":-3.7,"lo":-5.3,"hi":-2.1},
{"p":"d2","s":"b","t":10,"m":-3.0,"lo":-4.6,"hi":-1.4},
{"p":"d2","s":"b","t":13,"m":-1.3,"lo":-2.9,"hi":0.3},
{"p":"d2","s":"b","t":15,"m":0.5,"lo":-1.1,"hi":2.1},
{"p":"d2","s":"b","t":18,"m":3.7,"lo":2.1,"hi":5.3},
{"p":"d2","s":"b","t":20,"m":5.4,"lo":3.8,"hi":7.0},
{"p":"d2","s":"b","t":23,"m":7.5,"lo":5.9,"hi":9.1},
{"p":"d2","s":"b","t":25,"m":8.1,"lo":6.5,"hi":9.7},
{"p":"d2","s":"b","t":28,"m":7.2,"lo":5.6,"hi":8.8},
{"p":"d2","s":"b","t":30,"m":5.8,"lo":4.2,"hi":7.4},
{"p":"d2","s":"b","t":33,"m":3.3,"lo":1.7,"hi":4.9},
{"p":"d2","s":"b","t":35,"m":2.0,"lo":0.4,"hi":3.6},
{"p":"d2","s":"b","t":37,"m":1.2,"lo":-0.4,"hi":2.8},
{"p":"d2","s":"b","t":38,"m":1.1,"lo":-0.5,"hi":2.7},
{"p":"d2","s":"b","t":40,"m":1.6,"lo":0.0,"hi":3.2},
{"p":"d2","s":"r","t":0,"m":-6.2,"lo":-7.8,"hi":-4.6},
{"p":"d2","s":"r","t":3,"m":-7.9,"lo":-9.5,"hi":-6.3},
{"p":"d2","s":"r","t":5,"m":-7.9,"lo":-9.5,"hi":-6.3},
{"p":"d2","s":"r","t":8,"m":-7.2,"lo":-8.8,"hi":-5.6},
{"p":"d2","s":"r","t":10,"m":-6.5,"lo":-8.1,"hi":-4.9},
{"p":"d2","s":"r","t":13,"m":-4.4,"lo":-6.0,"hi":-2.8},
{"p":"d2","s":"r","t":15,"m":-2.3,"lo":-3.9,"hi":-0.7},
{"p":"d2","s":"r","t":18,"m":1.2,"lo":-0.4,"hi":2.8},
{"p":"d2","s":"r","t":20,"m":3.3,"lo":1.7,"hi":4.9},
{"p":"d2","s":"r","t":23,"m":5.8,"lo":4.2,"hi":7.4},
{"p":"d2","s":"r","t":25,"m":6.5,"lo":4.9,"hi":8.1},
{"p":"d2","s":"r","t":28,"m":5.5,"lo":3.9,"hi":7.1},
{"p":"d2","s":"r","t":30,"m":3.3,"lo":1.7,"hi":4.9},
{"p":"d2","s":"r","t":33,"m":-0.9,"lo":-2.5,"hi":0.7},
{"p":"d2","s":"r","t":35,"m":-3.4,"lo":-5.0,"hi":-1.8},
{"p":"d2","s":"r","t":37,"m":-4.8,"lo":-6.4,"hi":-3.2},
{"p":"d2","s":"r","t":38,"m":-4.6,"lo":-6.2,"hi":-3.0},
{"p":"d2","s":"r","t":40,"m":-3.0,"lo":-4.6,"hi":-1.4},
{"p":"d2","s":"d","t":0,"m":-2.0,"lo":-3.9,"hi":-0.1},
{"p":"d2","s":"d","t":5,"m":-2.7,"lo":-4.6,"hi":-0.8},
{"p":"d2","s":"d","t":10,"m":-3.0,"lo":-4.9,"hi":-1.1},
{"p":"d2","s":"d","t":15,"m":-2.8,"lo":-4.7,"hi":-0.9},
{"p":"d2","s":"d","t":20,"m":-2.5,"lo":-4.4,"hi":-0.6},
{"p":"d2","s":"d","t":23,"m":-2.1,"lo":-4.0,"hi":-0.2},
{"p":"d2","s":"d","t":25,"m":-2.0,"lo":-3.9,"hi":-0.1},
{"p":"d2","s":"d","t":28,"m":-2.3,"lo":-4.2,"hi":-0.4},
{"p":"d2","s":"d","t":30,"m":-3.0,"lo":-4.9,"hi":-1.1},
{"p":"d2","s":"d","t":33,"m":-4.6,"lo":-6.5,"hi":-2.7},
{"p":"d2","s":"d","t":35,"m":-5.5,"lo":-7.4,"hi":-3.6},
{"p":"d2","s":"d","t":37,"m":-5.8,"lo":-7.7,"hi":-3.9},
{"p":"d2","s":"d","t":38,"m":-5.8,"lo":-7.7,"hi":-3.9},
{"p":"d2","s":"d","t":40,"m":-5.3,"lo":-7.2,"hi":-3.4}
  ]
},
"spacing": 48.4,
"vconcat": [
 {
  "title": {"text": "(1) tonue tip (vertical)", "orient": "left", "anchor": "middle", "fontSize": 14.5, "color": "#333", "offset": 46, "dx": -7},
  "spacing": 14.4,
  "hconcat": [
   {"spacing": 0, "bounds": "flush", "vconcat": [
    {"width": 239, "height": 114, "title": "a) [idˤgam - idgaln]",
     "encoding": {"x": {"field": "t", "type": "quantitative", "scale": {"domain": [0, 40], "nice": false}, "axis": null}},
     "layer": [
      {"data": {"name": "curves"}, "transform": [{"filter": "datum.p == 'a1' && datum.s != 'd'"}], "mark": {"type": "area", "interpolate": "monotone", "opacity": 0.42, "clip": true}, "encoding": {"y": {"field": "lo", "type": "quantitative", "scale": {"domain": [-12, 12], "nice": false}, "axis": {"values": [-10, 0, 10], "title": ["displacement", "(mm)"]}}, "y2": {"field": "hi"}, "color": {"field": "s", "type": "nominal", "scale": {"domain": ["b", "r", "d"], "range": ["#1f77b4", "#c8081f", "#ff7f0e"]}, "legend": null}}},
      {"data": {"name": "curves"}, "transform": [{"filter": "datum.p == 'a1' && datum.s != 'd'"}], "mark": {"type": "line", "interpolate": "monotone", "strokeWidth": 6, "opacity": 0.3, "clip": true}, "encoding": {"y": {"field": "m", "type": "quantitative", "scale": {"domain": [-12, 12], "nice": false}, "axis": {"values": [-10, 0, 10], "title": ["displacement", "(mm)"]}}, "color": {"field": "s", "type": "nominal", "scale": {"domain": ["b", "r", "d"], "range": ["#1f77b4", "#c8081f", "#ff7f0e"]}, "legend": null}}},
      {"data": {"name": "curves"}, "transform": [{"filter": "datum.p == 'a1' && datum.s != 'd'"}], "mark": {"type": "line", "interpolate": "monotone", "strokeWidth": 2, "clip": true}, "encoding": {"y": {"field": "m", "type": "quantitative", "scale": {"domain": [-12, 12], "nice": false}, "axis": {"values": [-10, 0, 10], "title": ["displacement", "(mm)"]}}, "color": {"field": "s", "type": "nominal", "scale": {"domain": ["b", "r", "d"], "range": ["#1f77b4", "#c8081f", "#ff7f0e"]}, "legend": null}}},
      {"data": {"name": "vl"}, "mark": {"type": "rule", "strokeDash": [2, 2], "strokeWidth": 1.2, "color": "#000"}, "encoding": {}}
     ]},
    {"width": 239, "height": 114,
     "encoding": {"x": {"field": "t", "type": "quantitative", "scale": {"domain": [0, 40], "nice": false}, "axis": {"values": [0, 10, 20, 30, 40], "labels": false, "title": null}}},
     "layer": [
      {"data": {"name": "grey"}, "mark": {"type": "rect", "color": "#cfcfcf", "opacity": 0.85}, "encoding": {"x2": {"field": "t2"}, "y": {"field": "lo", "type": "quantitative", "scale": {"domain": [-12, 12], "nice": false}, "axis": {"values": [-10, 0, 10], "title": ["difference", "(mm)"]}}, "y2": {"field": "hi"}}},
      {"data": {"name": "sig"}, "transform": [{"filter": "datum.p == 'a1'"}], "mark": {"type": "rect", "color": "#ff5a4e", "opacity": 0.45}, "encoding": {"x2": {"field": "t2"}}},
      {"data": {"name": "curves"}, "transform": [{"filter": "datum.p == 'a1' && datum.s == 'd'"}], "mark": {"type": "area", "interpolate": "monotone", "opacity": 0.45, "color": "#ff7f0e", "clip": true}, "encoding": {"y": {"field": "lo", "type": "quantitative", "scale": {"domain": [-12, 12], "nice": false}, "axis": {"values": [-10, 0, 10], "title": ["difference", "(mm)"]}}, "y2": {"field": "hi"}}},
      {"data": {"name": "curves"}, "transform": [{"filter": "datum.p == 'a1' && datum.s == 'd'"}], "mark": {"type": "line", "interpolate": "monotone", "strokeWidth": 6, "opacity": 0.3, "color": "#ff7f0e", "clip": true}, "encoding": {"y": {"field": "m", "type": "quantitative", "scale": {"domain": [-12, 12], "nice": false}, "axis": {"values": [-10, 0, 10], "title": ["difference", "(mm)"]}}}},
      {"data": {"name": "curves"}, "transform": [{"filter": "datum.p == 'a1' && datum.s == 'd'"}], "mark": {"type": "line", "interpolate": "monotone", "strokeWidth": 2, "color": "#ff7f0e", "clip": true}, "encoding": {"y": {"field": "m", "type": "quantitative", "scale": {"domain": [-12, 12], "nice": false}, "axis": {"values": [-10, 0, 10], "title": ["difference", "(mm)"]}}}},
      {"data": {"name": "vl"}, "mark": {"type": "rule", "strokeDash": [2, 2], "strokeWidth": 1.2, "color": "#000"}, "encoding": {}}
     ]}
   ]},
   {"spacing": 0, "bounds": "flush", "vconcat": [
    {"width": 239, "height": 114, "title": "b) [adˤgag - adgal]",
     "encoding": {"x": {"field": "t", "type": "quantitative", "scale": {"domain": [0, 40], "nice": false}, "axis": null}},
     "layer": [
      {"data": {"name": "curves"}, "transform": [{"filter": "datum.p == 'b1' && datum.s != 'd'"}], "mark": {"type": "area", "interpolate": "monotone", "opacity": 0.42, "clip": true}, "encoding": {"y": {"field": "lo", "type": "quantitative", "scale": {"domain": [-12, 12], "nice": false}, "axis": {"values": [-10, 0, 10], "labels": false, "title": null}}, "y2": {"field": "hi"}, "color": {"field": "s", "type": "nominal", "scale": {"domain": ["b", "r", "d"], "range": ["#1f77b4", "#c8081f", "#ff7f0e"]}, "legend": null}}},
      {"data": {"name": "curves"}, "transform": [{"filter": "datum.p == 'b1' && datum.s != 'd'"}], "mark": {"type": "line", "interpolate": "monotone", "strokeWidth": 6, "opacity": 0.3, "clip": true}, "encoding": {"y": {"field": "m", "type": "quantitative", "scale": {"domain": [-12, 12], "nice": false}, "axis": {"values": [-10, 0, 10], "labels": false, "title": null}}, "color": {"field": "s", "type": "nominal", "scale": {"domain": ["b", "r", "d"], "range": ["#1f77b4", "#c8081f", "#ff7f0e"]}, "legend": null}}},
      {"data": {"name": "curves"}, "transform": [{"filter": "datum.p == 'b1' && datum.s != 'd'"}], "mark": {"type": "line", "interpolate": "monotone", "strokeWidth": 2, "clip": true}, "encoding": {"y": {"field": "m", "type": "quantitative", "scale": {"domain": [-12, 12], "nice": false}, "axis": {"values": [-10, 0, 10], "labels": false, "title": null}}, "color": {"field": "s", "type": "nominal", "scale": {"domain": ["b", "r", "d"], "range": ["#1f77b4", "#c8081f", "#ff7f0e"]}, "legend": null}}},
      {"data": {"name": "vl"}, "mark": {"type": "rule", "strokeDash": [2, 2], "strokeWidth": 1.2, "color": "#000"}, "encoding": {}}
     ]},
    {"width": 239, "height": 114,
     "encoding": {"x": {"field": "t", "type": "quantitative", "scale": {"domain": [0, 40], "nice": false}, "axis": {"values": [0, 10, 20, 30, 40], "labels": false, "title": null}}},
     "layer": [
      {"data": {"name": "grey"}, "mark": {"type": "rect", "color": "#cfcfcf", "opacity": 0.85}, "encoding": {"x2": {"field": "t2"}, "y": {"field": "lo", "type": "quantitative", "scale": {"domain": [-12, 12], "nice": false}, "axis": {"values": [-10, 0, 10], "labels": false, "title": null}}, "y2": {"field": "hi"}}},
      {"data": {"name": "sig"}, "transform": [{"filter": "datum.p == 'b1'"}], "mark": {"type": "rect", "color": "#ff5a4e", "opacity": 0.45}, "encoding": {"x2": {"field": "t2"}}},
      {"data": {"name": "curves"}, "transform": [{"filter": "datum.p == 'b1' && datum.s == 'd'"}], "mark": {"type": "area", "interpolate": "monotone", "opacity": 0.45, "color": "#ff7f0e", "clip": true}, "encoding": {"y": {"field": "lo", "type": "quantitative", "scale": {"domain": [-12, 12], "nice": false}, "axis": {"values": [-10, 0, 10], "labels": false, "title": null}}, "y2": {"field": "hi"}}},
      {"data": {"name": "curves"}, "transform": [{"filter": "datum.p == 'b1' && datum.s == 'd'"}], "mark": {"type": "line", "interpolate": "monotone", "strokeWidth": 6, "opacity": 0.3, "color": "#ff7f0e", "clip": true}, "encoding": {"y": {"field": "m", "type": "quantitative", "scale": {"domain": [-12, 12], "nice": false}, "axis": {"values": [-10, 0, 10], "labels": false, "title": null}}}},
      {"data": {"name": "curves"}, "transform": [{"filter": "datum.p == 'b1' && datum.s == 'd'"}], "mark": {"type": "line", "interpolate": "monotone", "strokeWidth": 2, "color": "#ff7f0e", "clip": true}, "encoding": {"y": {"field": "m", "type": "quantitative", "scale": {"domain": [-12, 12], "nice": false}, "axis": {"values": [-10, 0, 10], "labels": false, "title": null}}}},
      {"data": {"name": "vl"}, "mark": {"type": "rule", "strokeDash": [2, 2], "strokeWidth": 1.2, "color": "#000"}, "encoding": {}}
     ]}
   ]},
   {"spacing": 0, "bounds": "flush", "vconcat": [
    {"width": 239, "height": 114, "title": "c) [izˤman - izmaz]",
     "encoding": {"x": {"field": "t", "type": "quantitative", "scale": {"domain": [0, 40], "nice": false}, "axis": null}},
     "layer": [
      {"data": {"name": "curves"}, "transform": [{"filter": "datum.p == 'c1' && datum.s != 'd'"}], "mark": {"type": "area", "interpolate": "monotone", "opacity": 0.42, "clip": true}, "encoding": {"y": {"field": "lo", "type": "quantitative", "scale": {"domain": [-12, 12], "nice": false}, "axis": {"values": [-10, 0, 10], "labels": false, "title": null}}, "y2": {"field": "hi"}, "color": {"field": "s", "type": "nominal", "scale": {"domain": ["b", "r", "d"], "range": ["#1f77b4", "#c8081f", "#ff7f0e"]}, "legend": null}}},
      {"data": {"name": "curves"}, "transform": [{"filter": "datum.p == 'c1' && datum.s != 'd'"}], "mark": {"type": "line", "interpolate": "monotone", "strokeWidth": 6, "opacity": 0.3, "clip": true}, "encoding": {"y": {"field": "m", "type": "quantitative", "scale": {"domain": [-12, 12], "nice": false}, "axis": {"values": [-10, 0, 10], "labels": false, "title": null}}, "color": {"field": "s", "type": "nominal", "scale": {"domain": ["b", "r", "d"], "range": ["#1f77b4", "#c8081f", "#ff7f0e"]}, "legend": null}}},
      {"data": {"name": "curves"}, "transform": [{"filter": "datum.p == 'c1' && datum.s != 'd'"}], "mark": {"type": "line", "interpolate": "monotone", "strokeWidth": 2, "clip": true}, "encoding": {"y": {"field": "m", "type": "quantitative", "scale": {"domain": [-12, 12], "nice": false}, "axis": {"values": [-10, 0, 10], "labels": false, "title": null}}, "color": {"field": "s", "type": "nominal", "scale": {"domain": ["b", "r", "d"], "range": ["#1f77b4", "#c8081f", "#ff7f0e"]}, "legend": null}}},
      {"data": {"name": "vl"}, "mark": {"type": "rule", "strokeDash": [2, 2], "strokeWidth": 1.2, "color": "#000"}, "encoding": {}}
     ]},
    {"width": 239, "height": 114,
     "encoding": {"x": {"field": "t", "type": "quantitative", "scale": {"domain": [0, 40], "nice": false}, "axis": {"values": [0, 10, 20, 30, 40], "labels": false, "title": null}}},
     "layer": [
      {"data": {"name": "grey"}, "mark": {"type": "rect", "color": "#cfcfcf", "opacity": 0.85}, "encoding": {"x2": {"field": "t2"}, "y": {"field": "lo", "type": "quantitative", "scale": {"domain": [-12, 12], "nice": false}, "axis": {"values": [-10, 0, 10], "labels": false, "title": null}}, "y2": {"field": "hi"}}},
      {"data": {"name": "curves"}, "transform": [{"filter": "datum.p == 'c1' && datum.s == 'd'"}], "mark": {"type": "area", "interpolate": "monotone", "opacity": 0.45, "color": "#ff7f0e", "clip": true}, "encoding": {"y": {"field": "lo", "type": "quantitative", "scale": {"domain": [-12, 12], "nice": false}, "axis": {"values": [-10, 0, 10], "labels": false, "title": null}}, "y2": {"field": "hi"}}},
      {"data": {"name": "curves"}, "transform": [{"filter": "datum.p == 'c1' && datum.s == 'd'"}], "mark": {"type": "line", "interpolate": "monotone", "strokeWidth": 6, "opacity": 0.3, "color": "#ff7f0e", "clip": true}, "encoding": {"y": {"field": "m", "type": "quantitative", "scale": {"domain": [-12, 12], "nice": false}, "axis": {"values": [-10, 0, 10], "labels": false, "title": null}}}},
      {"data": {"name": "curves"}, "transform": [{"filter": "datum.p == 'c1' && datum.s == 'd'"}], "mark": {"type": "line", "interpolate": "monotone", "strokeWidth": 2, "color": "#ff7f0e", "clip": true}, "encoding": {"y": {"field": "m", "type": "quantitative", "scale": {"domain": [-12, 12], "nice": false}, "axis": {"values": [-10, 0, 10], "labels": false, "title": null}}}},
      {"data": {"name": "vl"}, "mark": {"type": "rule", "strokeDash": [2, 2], "strokeWidth": 1.2, "color": "#000"}, "encoding": {}}
     ]}
   ]},
   {"spacing": 0, "bounds": "flush", "vconcat": [
    {"width": 239, "height": 114, "title": "d) [azˤgan - azgaj]",
     "encoding": {"x": {"field": "t", "type": "quantitative", "scale": {"domain": [0, 40], "nice": false}, "axis": null}},
     "layer": [
      {"data": {"name": "curves"}, "transform": [{"filter": "datum.p == 'd1' && datum.s != 'd'"}], "mark": {"type": "area", "interpolate": "monotone", "opacity": 0.42, "clip": true}, "encoding": {"y": {"field": "lo", "type": "quantitative", "scale": {"domain": [-12, 12], "nice": false}, "axis": {"values": [-10, 0, 10], "labels": false, "title": null}}, "y2": {"field": "hi"}, "color": {"field": "s", "type": "nominal", "scale": {"domain": ["b", "r", "d"], "range": ["#1f77b4", "#c8081f", "#ff7f0e"]}, "legend": null}}},
      {"data": {"name": "curves"}, "transform": [{"filter": "datum.p == 'd1' && datum.s != 'd'"}], "mark": {"type": "line", "interpolate": "monotone", "strokeWidth": 6, "opacity": 0.3, "clip": true}, "encoding": {"y": {"field": "m", "type": "quantitative", "scale": {"domain": [-12, 12], "nice": false}, "axis": {"values": [-10, 0, 10], "labels": false, "title": null}}, "color": {"field": "s", "type": "nominal", "scale": {"domain": ["b", "r", "d"], "range": ["#1f77b4", "#c8081f", "#ff7f0e"]}, "legend": null}}},
      {"data": {"name": "curves"}, "transform": [{"filter": "datum.p == 'd1' && datum.s != 'd'"}], "mark": {"type": "line", "interpolate": "monotone", "strokeWidth": 2, "clip": true}, "encoding": {"y": {"field": "m", "type": "quantitative", "scale": {"domain": [-12, 12], "nice": false}, "axis": {"values": [-10, 0, 10], "labels": false, "title": null}}, "color": {"field": "s", "type": "nominal", "scale": {"domain": ["b", "r", "d"], "range": ["#1f77b4", "#c8081f", "#ff7f0e"]}, "legend": null}}},
      {"data": {"name": "vl"}, "mark": {"type": "rule", "strokeDash": [2, 2], "strokeWidth": 1.2, "color": "#000"}, "encoding": {}}
     ]},
    {"width": 239, "height": 114,
     "encoding": {"x": {"field": "t", "type": "quantitative", "scale": {"domain": [0, 40], "nice": false}, "axis": {"values": [0, 10, 20, 30, 40], "labels": false, "title": null}}},
     "layer": [
      {"data": {"name": "grey"}, "mark": {"type": "rect", "color": "#cfcfcf", "opacity": 0.85}, "encoding": {"x2": {"field": "t2"}, "y": {"field": "lo", "type": "quantitative", "scale": {"domain": [-12, 12], "nice": false}, "axis": {"values": [-10, 0, 10], "labels": false, "title": null}}, "y2": {"field": "hi"}}},
      {"data": {"name": "sig"}, "transform": [{"filter": "datum.p == 'd1'"}], "mark": {"type": "rect", "color": "#ff5a4e", "opacity": 0.45}, "encoding": {"x2": {"field": "t2"}}},
      {"data": {"name": "curves"}, "transform": [{"filter": "datum.p == 'd1' && datum.s == 'd'"}], "mark": {"type": "area", "interpolate": "monotone", "opacity": 0.45, "color": "#ff7f0e", "clip": true}, "encoding": {"y": {"field": "lo", "type": "quantitative", "scale": {"domain": [-12, 12], "nice": false}, "axis": {"values": [-10, 0, 10], "labels": false, "title": null}}, "y2": {"field": "hi"}}},
      {"data": {"name": "curves"}, "transform": [{"filter": "datum.p == 'd1' && datum.s == 'd'"}], "mark": {"type": "line", "interpolate": "monotone", "strokeWidth": 6, "opacity": 0.3, "color": "#ff7f0e", "clip": true}, "encoding": {"y": {"field": "m", "type": "quantitative", "scale": {"domain": [-12, 12], "nice": false}, "axis": {"values": [-10, 0, 10], "labels": false, "title": null}}}},
      {"data": {"name": "curves"}, "transform": [{"filter": "datum.p == 'd1' && datum.s == 'd'"}], "mark": {"type": "line", "interpolate": "monotone", "strokeWidth": 2, "color": "#ff7f0e", "clip": true}, "encoding": {"y": {"field": "m", "type": "quantitative", "scale": {"domain": [-12, 12], "nice": false}, "axis": {"values": [-10, 0, 10], "labels": false, "title": null}}}},
      {"data": {"name": "vl"}, "mark": {"type": "rule", "strokeDash": [2, 2], "strokeWidth": 1.2, "color": "#000"}, "encoding": {}}
     ]}
   ]}
  ]
 },
 {
  "title": {"text": "(2) tongue body (vertical)", "orient": "left", "anchor": "middle", "fontSize": 14.5, "color": "#333", "offset": 46},
  "spacing": 14.4,
  "hconcat": [
   {"spacing": 0, "bounds": "flush", "vconcat": [
    {"width": 239, "height": 114,
     "encoding": {"x": {"field": "t", "type": "quantitative", "scale": {"domain": [0, 40], "nice": false}, "axis": null}},
     "layer": [
      {"data": {"name": "curves"}, "transform": [{"filter": "datum.p == 'a2' && datum.s != 'd'"}], "mark": {"type": "area", "interpolate": "monotone", "opacity": 0.42, "clip": true}, "encoding": {"y": {"field": "lo", "type": "quantitative", "scale": {"domain": [-12, 12], "nice": false}, "axis": {"values": [-10, 0, 10], "title": ["displacement", "(mm)"]}}, "y2": {"field": "hi"}, "color": {"field": "s", "type": "nominal", "scale": {"domain": ["b", "r", "d"], "range": ["#1f77b4", "#c8081f", "#ff7f0e"]}, "legend": null}}},
      {"data": {"name": "curves"}, "transform": [{"filter": "datum.p == 'a2' && datum.s != 'd'"}], "mark": {"type": "line", "interpolate": "monotone", "strokeWidth": 6, "opacity": 0.3, "clip": true}, "encoding": {"y": {"field": "m", "type": "quantitative", "scale": {"domain": [-12, 12], "nice": false}, "axis": {"values": [-10, 0, 10], "title": ["displacement", "(mm)"]}}, "color": {"field": "s", "type": "nominal", "scale": {"domain": ["b", "r", "d"], "range": ["#1f77b4", "#c8081f", "#ff7f0e"]}, "legend": null}}},
      {"data": {"name": "curves"}, "transform": [{"filter": "datum.p == 'a2' && datum.s != 'd'"}], "mark": {"type": "line", "interpolate": "monotone", "strokeWidth": 2, "clip": true}, "encoding": {"y": {"field": "m", "type": "quantitative", "scale": {"domain": [-12, 12], "nice": false}, "axis": {"values": [-10, 0, 10], "title": ["displacement", "(mm)"]}}, "color": {"field": "s", "type": "nominal", "scale": {"domain": ["b", "r", "d"], "range": ["#1f77b4", "#c8081f", "#ff7f0e"]}, "legend": null}}},
      {"data": {"name": "vl"}, "mark": {"type": "rule", "strokeDash": [2, 2], "strokeWidth": 1.2, "color": "#000"}, "encoding": {}}
     ]},
    {"width": 239, "height": 114,
     "encoding": {"x": {"field": "t", "type": "quantitative", "scale": {"domain": [0, 40], "nice": false}, "axis": {"values": [0, 10, 20, 30, 40], "title": "Time (normalized)", "titleFontSize": 18, "labelPadding": 8, "titlePadding": 5.5}}},
     "layer": [
      {"data": {"name": "grey"}, "mark": {"type": "rect", "color": "#cfcfcf", "opacity": 0.85}, "encoding": {"x2": {"field": "t2"}, "y": {"field": "lo", "type": "quantitative", "scale": {"domain": [-12, 12], "nice": false}, "axis": {"values": [-10, 0, 10], "title": ["difference", "(mm)"]}}, "y2": {"field": "hi"}}},
      {"data": {"name": "sig"}, "transform": [{"filter": "datum.p == 'a2'"}], "mark": {"type": "rect", "color": "#ff5a4e", "opacity": 0.45}, "encoding": {"x2": {"field": "t2"}}},
      {"data": {"name": "curves"}, "transform": [{"filter": "datum.p == 'a2' && datum.s == 'd'"}], "mark": {"type": "area", "interpolate": "monotone", "opacity": 0.45, "color": "#ff7f0e", "clip": true}, "encoding": {"y": {"field": "lo", "type": "quantitative", "scale": {"domain": [-12, 12], "nice": false}, "axis": {"values": [-10, 0, 10], "title": ["difference", "(mm)"]}}, "y2": {"field": "hi"}}},
      {"data": {"name": "curves"}, "transform": [{"filter": "datum.p == 'a2' && datum.s == 'd'"}], "mark": {"type": "line", "interpolate": "monotone", "strokeWidth": 6, "opacity": 0.3, "color": "#ff7f0e", "clip": true}, "encoding": {"y": {"field": "m", "type": "quantitative", "scale": {"domain": [-12, 12], "nice": false}, "axis": {"values": [-10, 0, 10], "title": ["difference", "(mm)"]}}}},
      {"data": {"name": "curves"}, "transform": [{"filter": "datum.p == 'a2' && datum.s == 'd'"}], "mark": {"type": "line", "interpolate": "monotone", "strokeWidth": 2, "color": "#ff7f0e", "clip": true}, "encoding": {"y": {"field": "m", "type": "quantitative", "scale": {"domain": [-12, 12], "nice": false}, "axis": {"values": [-10, 0, 10], "title": ["difference", "(mm)"]}}}},
      {"data": {"name": "vl"}, "mark": {"type": "rule", "strokeDash": [2, 2], "strokeWidth": 1.2, "color": "#000"}, "encoding": {}},
      {"data": {"name": "arrow"}, "mark": {"type": "rule", "strokeWidth": 3.5, "color": "#000", "clip": false}, "encoding": {"x2": {"field": "t2"}, "y": {"field": "y", "type": "quantitative", "scale": {"domain": [-12, 12], "nice": false}, "axis": {"values": [-10, 0, 10], "title": ["difference", "(mm)"]}}}},
      {"data": {"name": "head"}, "mark": {"type": "point", "shape": "triangle-right", "filled": true, "size": 150, "color": "#000", "opacity": 1, "clip": false}, "encoding": {"y": {"field": "y", "type": "quantitative", "scale": {"domain": [-12, 12], "nice": false}, "axis": {"values": [-10, 0, 10], "title": ["difference", "(mm)"]}}}},
      {"data": {"name": "phase"}, "transform": [{"filter": "datum.b == 0"}], "mark": {"type": "text", "fontSize": 18, "color": "#111", "baseline": "middle", "clip": false}, "encoding": {"y": {"field": "y", "type": "quantitative", "scale": {"domain": [-12, 12], "nice": false}, "axis": {"values": [-10, 0, 10], "title": ["difference", "(mm)"]}}, "text": {"field": "lab", "type": "nominal"}}},
      {"data": {"name": "phase"}, "transform": [{"filter": "datum.b == 1"}], "mark": {"type": "text", "fontSize": 18, "fontWeight": "bold", "color": "#111", "baseline": "middle", "clip": false}, "encoding": {"y": {"field": "y", "type": "quantitative", "scale": {"domain": [-12, 12], "nice": false}, "axis": {"values": [-10, 0, 10], "title": ["difference", "(mm)"]}}, "text": {"field": "lab", "type": "nominal"}}}
     ]}
   ]},
   {"spacing": 0, "bounds": "flush", "vconcat": [
    {"width": 239, "height": 114,
     "encoding": {"x": {"field": "t", "type": "quantitative", "scale": {"domain": [0, 40], "nice": false}, "axis": null}},
     "layer": [
      {"data": {"name": "curves"}, "transform": [{"filter": "datum.p == 'b2' && datum.s != 'd'"}], "mark": {"type": "area", "interpolate": "monotone", "opacity": 0.42, "clip": true}, "encoding": {"y": {"field": "lo", "type": "quantitative", "scale": {"domain": [-12, 12], "nice": false}, "axis": {"values": [-10, 0, 10], "labels": false, "title": null}}, "y2": {"field": "hi"}, "color": {"field": "s", "type": "nominal", "scale": {"domain": ["b", "r", "d"], "range": ["#1f77b4", "#c8081f", "#ff7f0e"]}, "legend": null}}},
      {"data": {"name": "curves"}, "transform": [{"filter": "datum.p == 'b2' && datum.s != 'd'"}], "mark": {"type": "line", "interpolate": "monotone", "strokeWidth": 6, "opacity": 0.3, "clip": true}, "encoding": {"y": {"field": "m", "type": "quantitative", "scale": {"domain": [-12, 12], "nice": false}, "axis": {"values": [-10, 0, 10], "labels": false, "title": null}}, "color": {"field": "s", "type": "nominal", "scale": {"domain": ["b", "r", "d"], "range": ["#1f77b4", "#c8081f", "#ff7f0e"]}, "legend": null}}},
      {"data": {"name": "curves"}, "transform": [{"filter": "datum.p == 'b2' && datum.s != 'd'"}], "mark": {"type": "line", "interpolate": "monotone", "strokeWidth": 2, "clip": true}, "encoding": {"y": {"field": "m", "type": "quantitative", "scale": {"domain": [-12, 12], "nice": false}, "axis": {"values": [-10, 0, 10], "labels": false, "title": null}}, "color": {"field": "s", "type": "nominal", "scale": {"domain": ["b", "r", "d"], "range": ["#1f77b4", "#c8081f", "#ff7f0e"]}, "legend": null}}},
      {"data": {"name": "vl"}, "mark": {"type": "rule", "strokeDash": [2, 2], "strokeWidth": 1.2, "color": "#000"}, "encoding": {}}
     ]},
    {"width": 239, "height": 114,
     "encoding": {"x": {"field": "t", "type": "quantitative", "scale": {"domain": [0, 40], "nice": false}, "axis": {"values": [0, 10, 20, 30, 40], "title": "Time (normalized)", "titleFontSize": 18, "labelPadding": 8, "titlePadding": 5.5}}},
     "layer": [
      {"data": {"name": "grey"}, "mark": {"type": "rect", "color": "#cfcfcf", "opacity": 0.85}, "encoding": {"x2": {"field": "t2"}, "y": {"field": "lo", "type": "quantitative", "scale": {"domain": [-12, 12], "nice": false}, "axis": {"values": [-10, 0, 10], "labels": false, "title": null}}, "y2": {"field": "hi"}}},
      {"data": {"name": "sig"}, "transform": [{"filter": "datum.p == 'b2'"}], "mark": {"type": "rect", "color": "#ff5a4e", "opacity": 0.45}, "encoding": {"x2": {"field": "t2"}}},
      {"data": {"name": "curves"}, "transform": [{"filter": "datum.p == 'b2' && datum.s == 'd'"}], "mark": {"type": "area", "interpolate": "monotone", "opacity": 0.45, "color": "#ff7f0e", "clip": true}, "encoding": {"y": {"field": "lo", "type": "quantitative", "scale": {"domain": [-12, 12], "nice": false}, "axis": {"values": [-10, 0, 10], "labels": false, "title": null}}, "y2": {"field": "hi"}}},
      {"data": {"name": "curves"}, "transform": [{"filter": "datum.p == 'b2' && datum.s == 'd'"}], "mark": {"type": "line", "interpolate": "monotone", "strokeWidth": 6, "opacity": 0.3, "color": "#ff7f0e", "clip": true}, "encoding": {"y": {"field": "m", "type": "quantitative", "scale": {"domain": [-12, 12], "nice": false}, "axis": {"values": [-10, 0, 10], "labels": false, "title": null}}}},
      {"data": {"name": "curves"}, "transform": [{"filter": "datum.p == 'b2' && datum.s == 'd'"}], "mark": {"type": "line", "interpolate": "monotone", "strokeWidth": 2, "color": "#ff7f0e", "clip": true}, "encoding": {"y": {"field": "m", "type": "quantitative", "scale": {"domain": [-12, 12], "nice": false}, "axis": {"values": [-10, 0, 10], "labels": false, "title": null}}}},
      {"data": {"name": "vl"}, "mark": {"type": "rule", "strokeDash": [2, 2], "strokeWidth": 1.2, "color": "#000"}, "encoding": {}},
      {"data": {"name": "arrow"}, "mark": {"type": "rule", "strokeWidth": 3.5, "color": "#000", "clip": false}, "encoding": {"x2": {"field": "t2"}, "y": {"field": "y", "type": "quantitative", "scale": {"domain": [-12, 12], "nice": false}, "axis": {"values": [-10, 0, 10], "labels": false, "title": null}}}},
      {"data": {"name": "head"}, "mark": {"type": "point", "shape": "triangle-right", "filled": true, "size": 150, "color": "#000", "opacity": 1, "clip": false}, "encoding": {"y": {"field": "y", "type": "quantitative", "scale": {"domain": [-12, 12], "nice": false}, "axis": {"values": [-10, 0, 10], "labels": false, "title": null}}}},
      {"data": {"name": "phase"}, "transform": [{"filter": "datum.b == 0"}], "mark": {"type": "text", "fontSize": 18, "color": "#111", "baseline": "middle", "clip": false}, "encoding": {"y": {"field": "y", "type": "quantitative", "scale": {"domain": [-12, 12], "nice": false}, "axis": {"values": [-10, 0, 10], "labels": false, "title": null}}, "text": {"field": "lab", "type": "nominal"}}},
      {"data": {"name": "phase"}, "transform": [{"filter": "datum.b == 1"}], "mark": {"type": "text", "fontSize": 18, "fontWeight": "bold", "color": "#111", "baseline": "middle", "clip": false}, "encoding": {"y": {"field": "y", "type": "quantitative", "scale": {"domain": [-12, 12], "nice": false}, "axis": {"values": [-10, 0, 10], "labels": false, "title": null}}, "text": {"field": "lab", "type": "nominal"}}}
     ]}
   ]},
   {"spacing": 0, "bounds": "flush", "vconcat": [
    {"width": 239, "height": 114,
     "encoding": {"x": {"field": "t", "type": "quantitative", "scale": {"domain": [0, 40], "nice": false}, "axis": null}},
     "layer": [
      {"data": {"name": "curves"}, "transform": [{"filter": "datum.p == 'c2' && datum.s != 'd'"}], "mark": {"type": "area", "interpolate": "monotone", "opacity": 0.42, "clip": true}, "encoding": {"y": {"field": "lo", "type": "quantitative", "scale": {"domain": [-12, 12], "nice": false}, "axis": {"values": [-10, 0, 10], "labels": false, "title": null}}, "y2": {"field": "hi"}, "color": {"field": "s", "type": "nominal", "scale": {"domain": ["b", "r", "d"], "range": ["#1f77b4", "#c8081f", "#ff7f0e"]}, "legend": null}}},
      {"data": {"name": "curves"}, "transform": [{"filter": "datum.p == 'c2' && datum.s != 'd'"}], "mark": {"type": "line", "interpolate": "monotone", "strokeWidth": 6, "opacity": 0.3, "clip": true}, "encoding": {"y": {"field": "m", "type": "quantitative", "scale": {"domain": [-12, 12], "nice": false}, "axis": {"values": [-10, 0, 10], "labels": false, "title": null}}, "color": {"field": "s", "type": "nominal", "scale": {"domain": ["b", "r", "d"], "range": ["#1f77b4", "#c8081f", "#ff7f0e"]}, "legend": null}}},
      {"data": {"name": "curves"}, "transform": [{"filter": "datum.p == 'c2' && datum.s != 'd'"}], "mark": {"type": "line", "interpolate": "monotone", "strokeWidth": 2, "clip": true}, "encoding": {"y": {"field": "m", "type": "quantitative", "scale": {"domain": [-12, 12], "nice": false}, "axis": {"values": [-10, 0, 10], "labels": false, "title": null}}, "color": {"field": "s", "type": "nominal", "scale": {"domain": ["b", "r", "d"], "range": ["#1f77b4", "#c8081f", "#ff7f0e"]}, "legend": null}}},
      {"data": {"name": "vl"}, "mark": {"type": "rule", "strokeDash": [2, 2], "strokeWidth": 1.2, "color": "#000"}, "encoding": {}}
     ]},
    {"width": 239, "height": 114,
     "encoding": {"x": {"field": "t", "type": "quantitative", "scale": {"domain": [0, 40], "nice": false}, "axis": {"values": [0, 10, 20, 30, 40], "title": "Time (normalized)", "titleFontSize": 18, "labelPadding": 8, "titlePadding": 5.5}}},
     "layer": [
      {"data": {"name": "grey"}, "mark": {"type": "rect", "color": "#cfcfcf", "opacity": 0.85}, "encoding": {"x2": {"field": "t2"}, "y": {"field": "lo", "type": "quantitative", "scale": {"domain": [-12, 12], "nice": false}, "axis": {"values": [-10, 0, 10], "labels": false, "title": null}}, "y2": {"field": "hi"}}},
      {"data": {"name": "sig"}, "transform": [{"filter": "datum.p == 'c2'"}], "mark": {"type": "rect", "color": "#ff5a4e", "opacity": 0.45}, "encoding": {"x2": {"field": "t2"}}},
      {"data": {"name": "curves"}, "transform": [{"filter": "datum.p == 'c2' && datum.s == 'd'"}], "mark": {"type": "area", "interpolate": "monotone", "opacity": 0.45, "color": "#ff7f0e", "clip": true}, "encoding": {"y": {"field": "lo", "type": "quantitative", "scale": {"domain": [-12, 12], "nice": false}, "axis": {"values": [-10, 0, 10], "labels": false, "title": null}}, "y2": {"field": "hi"}}},
      {"data": {"name": "curves"}, "transform": [{"filter": "datum.p == 'c2' && datum.s == 'd'"}], "mark": {"type": "line", "interpolate": "monotone", "strokeWidth": 6, "opacity": 0.3, "color": "#ff7f0e", "clip": true}, "encoding": {"y": {"field": "m", "type": "quantitative", "scale": {"domain": [-12, 12], "nice": false}, "axis": {"values": [-10, 0, 10], "labels": false, "title": null}}}},
      {"data": {"name": "curves"}, "transform": [{"filter": "datum.p == 'c2' && datum.s == 'd'"}], "mark": {"type": "line", "interpolate": "monotone", "strokeWidth": 2, "color": "#ff7f0e", "clip": true}, "encoding": {"y": {"field": "m", "type": "quantitative", "scale": {"domain": [-12, 12], "nice": false}, "axis": {"values": [-10, 0, 10], "labels": false, "title": null}}}},
      {"data": {"name": "vl"}, "mark": {"type": "rule", "strokeDash": [2, 2], "strokeWidth": 1.2, "color": "#000"}, "encoding": {}},
      {"data": {"name": "arrow"}, "mark": {"type": "rule", "strokeWidth": 3.5, "color": "#000", "clip": false}, "encoding": {"x2": {"field": "t2"}, "y": {"field": "y", "type": "quantitative", "scale": {"domain": [-12, 12], "nice": false}, "axis": {"values": [-10, 0, 10], "labels": false, "title": null}}}},
      {"data": {"name": "head"}, "mark": {"type": "point", "shape": "triangle-right", "filled": true, "size": 150, "color": "#000", "opacity": 1, "clip": false}, "encoding": {"y": {"field": "y", "type": "quantitative", "scale": {"domain": [-12, 12], "nice": false}, "axis": {"values": [-10, 0, 10], "labels": false, "title": null}}}},
      {"data": {"name": "phase"}, "transform": [{"filter": "datum.b == 0"}], "mark": {"type": "text", "fontSize": 18, "color": "#111", "baseline": "middle", "clip": false}, "encoding": {"y": {"field": "y", "type": "quantitative", "scale": {"domain": [-12, 12], "nice": false}, "axis": {"values": [-10, 0, 10], "labels": false, "title": null}}, "text": {"field": "lab", "type": "nominal"}}},
      {"data": {"name": "phase"}, "transform": [{"filter": "datum.b == 1"}], "mark": {"type": "text", "fontSize": 18, "fontWeight": "bold", "color": "#111", "baseline": "middle", "clip": false}, "encoding": {"y": {"field": "y", "type": "quantitative", "scale": {"domain": [-12, 12], "nice": false}, "axis": {"values": [-10, 0, 10], "labels": false, "title": null}}, "text": {"field": "lab", "type": "nominal"}}}
     ]}
   ]},
   {"spacing": 0, "bounds": "flush", "vconcat": [
    {"width": 239, "height": 114,
     "encoding": {"x": {"field": "t", "type": "quantitative", "scale": {"domain": [0, 40], "nice": false}, "axis": null}},
     "layer": [
      {"data": {"name": "curves"}, "transform": [{"filter": "datum.p == 'd2' && datum.s != 'd'"}], "mark": {"type": "area", "interpolate": "monotone", "opacity": 0.42, "clip": true}, "encoding": {"y": {"field": "lo", "type": "quantitative", "scale": {"domain": [-12, 12], "nice": false}, "axis": {"values": [-10, 0, 10], "labels": false, "title": null}}, "y2": {"field": "hi"}, "color": {"field": "s", "type": "nominal", "scale": {"domain": ["b", "r", "d"], "range": ["#1f77b4", "#c8081f", "#ff7f0e"]}, "legend": null}}},
      {"data": {"name": "curves"}, "transform": [{"filter": "datum.p == 'd2' && datum.s != 'd'"}], "mark": {"type": "line", "interpolate": "monotone", "strokeWidth": 6, "opacity": 0.3, "clip": true}, "encoding": {"y": {"field": "m", "type": "quantitative", "scale": {"domain": [-12, 12], "nice": false}, "axis": {"values": [-10, 0, 10], "labels": false, "title": null}}, "color": {"field": "s", "type": "nominal", "scale": {"domain": ["b", "r", "d"], "range": ["#1f77b4", "#c8081f", "#ff7f0e"]}, "legend": null}}},
      {"data": {"name": "curves"}, "transform": [{"filter": "datum.p == 'd2' && datum.s != 'd'"}], "mark": {"type": "line", "interpolate": "monotone", "strokeWidth": 2, "clip": true}, "encoding": {"y": {"field": "m", "type": "quantitative", "scale": {"domain": [-12, 12], "nice": false}, "axis": {"values": [-10, 0, 10], "labels": false, "title": null}}, "color": {"field": "s", "type": "nominal", "scale": {"domain": ["b", "r", "d"], "range": ["#1f77b4", "#c8081f", "#ff7f0e"]}, "legend": null}}},
      {"data": {"name": "vl"}, "mark": {"type": "rule", "strokeDash": [2, 2], "strokeWidth": 1.2, "color": "#000"}, "encoding": {}}
     ]},
    {"width": 239, "height": 114,
     "encoding": {"x": {"field": "t", "type": "quantitative", "scale": {"domain": [0, 40], "nice": false}, "axis": {"values": [0, 10, 20, 30, 40], "title": "Time (normalized)", "titleFontSize": 18, "labelPadding": 8, "titlePadding": 5.5}}},
     "layer": [
      {"data": {"name": "grey"}, "mark": {"type": "rect", "color": "#cfcfcf", "opacity": 0.85}, "encoding": {"x2": {"field": "t2"}, "y": {"field": "lo", "type": "quantitative", "scale": {"domain": [-12, 12], "nice": false}, "axis": {"values": [-10, 0, 10], "labels": false, "title": null}}, "y2": {"field": "hi"}}},
      {"data": {"name": "sig"}, "transform": [{"filter": "datum.p == 'd2'"}], "mark": {"type": "rect", "color": "#ff5a4e", "opacity": 0.45}, "encoding": {"x2": {"field": "t2"}}},
      {"data": {"name": "curves"}, "transform": [{"filter": "datum.p == 'd2' && datum.s == 'd'"}], "mark": {"type": "area", "interpolate": "monotone", "opacity": 0.45, "color": "#ff7f0e", "clip": true}, "encoding": {"y": {"field": "lo", "type": "quantitative", "scale": {"domain": [-12, 12], "nice": false}, "axis": {"values": [-10, 0, 10], "labels": false, "title": null}}, "y2": {"field": "hi"}}},
      {"data": {"name": "curves"}, "transform": [{"filter": "datum.p == 'd2' && datum.s == 'd'"}], "mark": {"type": "line", "interpolate": "monotone", "strokeWidth": 6, "opacity": 0.3, "color": "#ff7f0e", "clip": true}, "encoding": {"y": {"field": "m", "type": "quantitative", "scale": {"domain": [-12, 12], "nice": false}, "axis": {"values": [-10, 0, 10], "labels": false, "title": null}}}},
      {"data": {"name": "curves"}, "transform": [{"filter": "datum.p == 'd2' && datum.s == 'd'"}], "mark": {"type": "line", "interpolate": "monotone", "strokeWidth": 2, "color": "#ff7f0e", "clip": true}, "encoding": {"y": {"field": "m", "type": "quantitative", "scale": {"domain": [-12, 12], "nice": false}, "axis": {"values": [-10, 0, 10], "labels": false, "title": null}}}},
      {"data": {"name": "vl"}, "mark": {"type": "rule", "strokeDash": [2, 2], "strokeWidth": 1.2, "color": "#000"}, "encoding": {}},
      {"data": {"name": "arrow"}, "mark": {"type": "rule", "strokeWidth": 3.5, "color": "#000", "clip": false}, "encoding": {"x2": {"field": "t2"}, "y": {"field": "y", "type": "quantitative", "scale": {"domain": [-12, 12], "nice": false}, "axis": {"values": [-10, 0, 10], "labels": false, "title": null}}}},
      {"data": {"name": "head"}, "mark": {"type": "point", "shape": "triangle-right", "filled": true, "size": 150, "color": "#000", "opacity": 1, "clip": false}, "encoding": {"y": {"field": "y", "type": "quantitative", "scale": {"domain": [-12, 12], "nice": false}, "axis": {"values": [-10, 0, 10], "labels": false, "title": null}}}},
      {"data": {"name": "phase"}, "transform": [{"filter": "datum.b == 0"}], "mark": {"type": "text", "fontSize": 18, "color": "#111", "baseline": "middle", "clip": false}, "encoding": {"y": {"field": "y", "type": "quantitative", "scale": {"domain": [-12, 12], "nice": false}, "axis": {"values": [-10, 0, 10], "labels": false, "title": null}}, "text": {"field": "lab", "type": "nominal"}}},
      {"data": {"name": "phase"}, "transform": [{"filter": "datum.b == 1"}], "mark": {"type": "text", "fontSize": 18, "fontWeight": "bold", "color": "#111", "baseline": "middle", "clip": false}, "encoding": {"y": {"field": "y", "type": "quantitative", "scale": {"domain": [-12, 12], "nice": false}, "axis": {"values": [-10, 0, 10], "labels": false, "title": null}}, "text": {"field": "lab", "type": "nominal"}}}
     ]}
   ]}
  ]
 }
]
}
